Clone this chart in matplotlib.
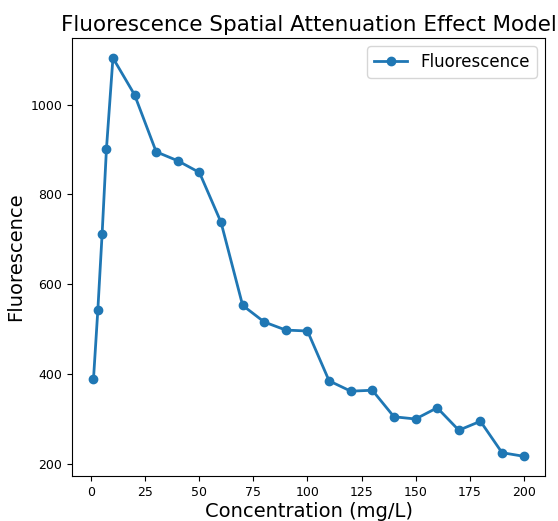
import matplotlib
matplotlib.use('Agg')
import matplotlib.pyplot as plt

# concentration (mg/L) and measured fluorescence
concentration = [1, 3, 5, 7, 10, 20, 30, 40, 50, 60, 70, 80, 90, 100,
                 110, 120, 130, 140, 150, 160, 170, 180, 190, 200]
fluorescence = [389, 542, 713, 902, 1104, 1022, 895, 875, 849, 738, 553, 516, 498, 496,
                385, 362, 364, 305, 300, 325, 275, 295, 225, 217]

fig = plt.figure(figsize=(5.58, 5.21), dpi=100)
ax = fig.add_axes([0.129, 0.086, 0.848, 0.841])
ax.plot(concentration, fluorescence, marker='o', linestyle='-', color='#1f77b4',
        linewidth=2, markersize=6, label='Fluorescence')

ax.set_title('Fluorescence Spatial Attenuation Effect Model', fontsize=15.5, pad=5)
ax.set_xlabel('Concentration (mg/L)', fontsize=14, labelpad=2)
ax.set_ylabel('Fluorescence', fontsize=14)
ax.tick_params(labelsize=9)
ax.set_xticks([0, 25, 50, 75, 100, 125, 150, 175, 200])
ax.set_yticks([200, 400, 600, 800, 1000])
ax.legend(fontsize=12, loc='upper right')

fig.savefig('out.png', dpi=100)
